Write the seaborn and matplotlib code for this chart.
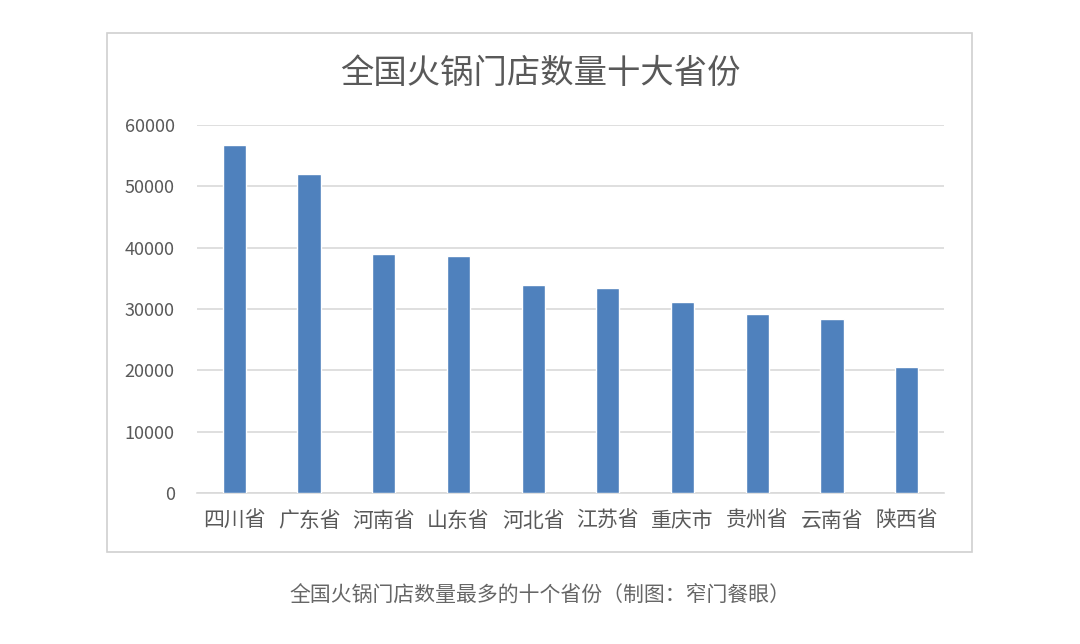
import seaborn as sns
import pandas as pd
import matplotlib.pyplot as plt
from matplotlib.patches import Rectangle

provinces = ['四川省', '广东省', '河南省', '山东省', '河北省',
             '江苏省', '重庆市', '贵州省', '云南省', '陕西省']
stores = [56700, 52000, 39000, 38600, 33900, 33500, 31200, 29200, 28400, 20600]

df = pd.DataFrame({'province': provinces, 'stores': stores})

sns.set_style('white')
plt.rcParams['font.family'] = ['Noto Sans CJK SC', 'DejaVu Sans']

fig = plt.figure(figsize=(10.8, 6.44), dpi=100)
ax = fig.add_axes([197 / 1080, 1 - 493 / 644, (944 - 197) / 1080, (493 - 125) / 644])

sns.barplot(data=df, x='province', y='stores', color='#4f81bd', width=0.31,
            saturation=1, ax=ax, zorder=3)

ax.set_ylim(0, 60000)
ax.set_yticks(range(0, 60001, 10000))
ax.set_xlim(-0.5, len(provinces) - 0.5)
ax.yaxis.grid(True, color='#d9d9d9', linewidth=1.2, zorder=0)
ax.set_xlabel('')
ax.set_ylabel('')
for s in ['top', 'right', 'left']:
    ax.spines[s].set_visible(False)
ax.spines['bottom'].set_color('#d9d9d9')
ax.spines['bottom'].set_linewidth(1.2)
ax.tick_params(axis='y', labelsize=13, colors='#595959', length=0, pad=16)
ax.tick_params(axis='x', labelsize=15, colors='#595959', length=0, pad=12)

# outer chart frame
fig.patches.append(Rectangle((107 / 1080, 1 - 552 / 644), (972 - 107) / 1080, (552 - 33) / 644,
                             transform=fig.transFigure, fill=False,
                             edgecolor='#d0d0d0', linewidth=1.2))

fig.text(0.5, 1 - 73 / 644, '全国火锅门店数量十大省份', ha='center', va='center',
         fontsize=24, color='#595959')
fig.text(0.5, 1 - 595 / 644, '全国火锅门店数量最多的十个省份（制图：窄门餐眼）',
         ha='center', va='center', fontsize=15, color='#666666')

plt.savefig('out.png', dpi=100)
